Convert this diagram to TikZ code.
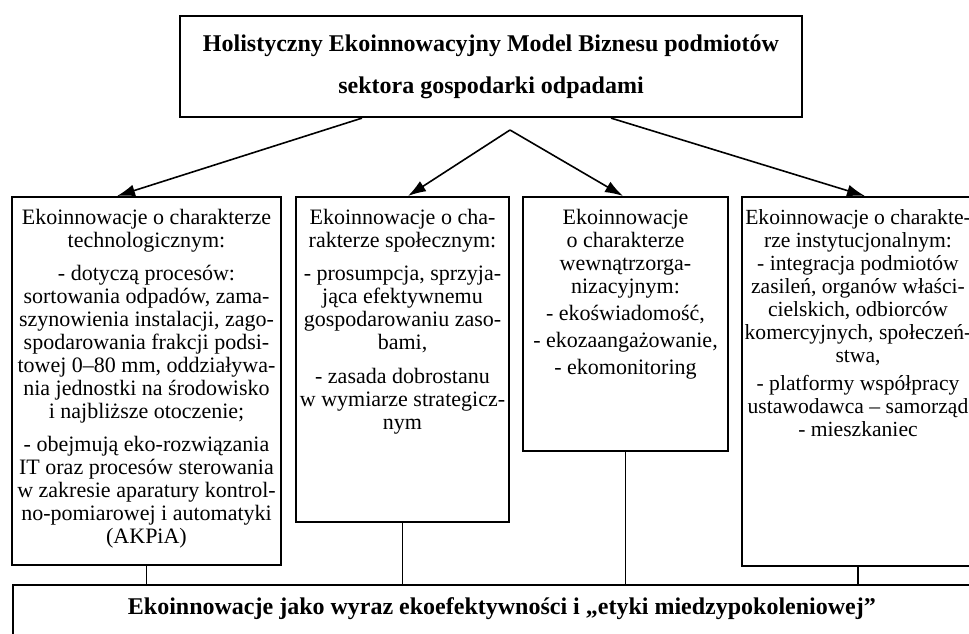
\documentclass[tikz,border=0pt]{standalone}
\usepackage{fontspec}
\setmainfont{Liberation Serif}
\usetikzlibrary{arrows.meta}

\begin{document}
\begin{tikzpicture}[x=0.5pt, y=-0.5pt, >={Latex[length=9pt,width=6pt]},
    box/.style={draw, line width=0.9pt, anchor=north},
    boxText/.style={anchor=north, align=center, inner sep=6.5pt, font=\fontsize{11}{11.5}\selectfont}]
    \def\boxTop{196}
    \def\baseTop{584}
    \useasboundingbox (0,0) rectangle (969,633);
    \clip (0,0) rectangle (969,633);

    % top of the model
    \node[draw, line width=1.1pt, minimum width=311pt, minimum height=50.5pt, align=center,
      font=\bfseries\fontsize{12}{21}\selectfont] (modelBox) at (491,66.5)
      {Holistyczny Ekoinnowacyjny Model Biznesu podmiotów\\ sektora gospodarki odpadami};

    % four kinds of eco-innovation
    \node[box, minimum width=134.5pt, minimum height=184pt] (techBox) at (146.5,\boxTop) {};
    \node[boxText] (techText) at (techBox.north) {Ekoinnowacje o charakterze\\ technologicznym:\\[5pt]
      - dotyczą procesów:\\ sortowania odpadów, zama-\\ szynowienia instalacji, zago-\\
      spodarowania frakcji podsi-\\ towej 0–80 mm, oddziaływa-\\
      nia jednostki na środowisko\\ i najbliższe otoczenie;\\[5pt]
      - obejmują eko-rozwiązania\\ IT oraz procesów sterowania\\
      w zakresie aparatury kontrol-\\ no-pomiarowej i automatyki\\ (AKPiA)};

    \node[box, minimum width=106.5pt, minimum height=162.5pt] (socBox) at (402.5,\boxTop) {};
    \node[boxText] (socText) at (socBox.north) {Ekoinnowacje o cha-\\ rakterze społecznym:\\[5pt]
      - prosumpcja, sprzyja-\\ jąca efektywnemu\\ gospodarowaniu zaso-\\ bami,\\[5.5pt]
      - zasada dobrostanu\\ w wymiarze strategicz-\\ nym};

    \node[box, minimum width=102.5pt, minimum height=127pt] (orgBox) at (625.5,\boxTop) {};
    \node[boxText] (orgText) at (orgBox.north) {Ekoinnowacje\\ o charakterze\\ wewnątrzorga-\\ nizacyjnym:\\[2pt]
      - ekoświadomość,\\[2pt] - ekozaangażowanie,\\[2pt] - ekomonitoring};

    \node[box, minimum width=116pt, minimum height=184.5pt] (instBox) at (858,\boxTop) {};
    \node[boxText, font=\fontsize{10.8}{11.5}\selectfont] (instText) at (instBox.north)
      {Ekoinnowacje o charakte-\\ rze instytucjonalnym:\\
      - integracja podmiotów\\ zasileń, organów właści-\\ cielskich, odbiorców\\
      komercyjnych, społeczeń-\\ stwa,\\[2.5pt]
      - platformy współpracy\\ ustawodawca – samorząd\\ - mieszkaniec};

    % common base
    \node[box, anchor=north west, minimum width=489pt, minimum height=45pt] (ethicsBox) at (12,\baseTop) {};
    \node[boxText, font=\bfseries\fontsize{12}{12}\selectfont] (ethicsText) at (ethicsBox.north)
      {Ekoinnowacje jako wyraz ekoefektywności i „etyki miedzypokoleniowej”};

    \coordinate (apex) at (510,130);
    \draw[->, line width=0.8pt] ([xshift=-64.5pt]modelBox.south) -- ([xshift=-14.75pt]techBox.north);
    \draw[->, line width=0.8pt] (apex) -- ([xshift=2.75pt]socBox.north);
    \draw[->, line width=0.8pt] (apex) -- ([xshift=-1.25pt]orgBox.north);
    \draw[->, line width=0.8pt] ([xshift=60pt]modelBox.south) -- ([xshift=3.5pt]instBox.north);

    \foreach \col in {techBox, socBox, orgBox, instBox}
        \draw[line width=0.9pt] (\col.south) -- (\col.south |- ethicsBox.north);
\end{tikzpicture}
\end{document}
